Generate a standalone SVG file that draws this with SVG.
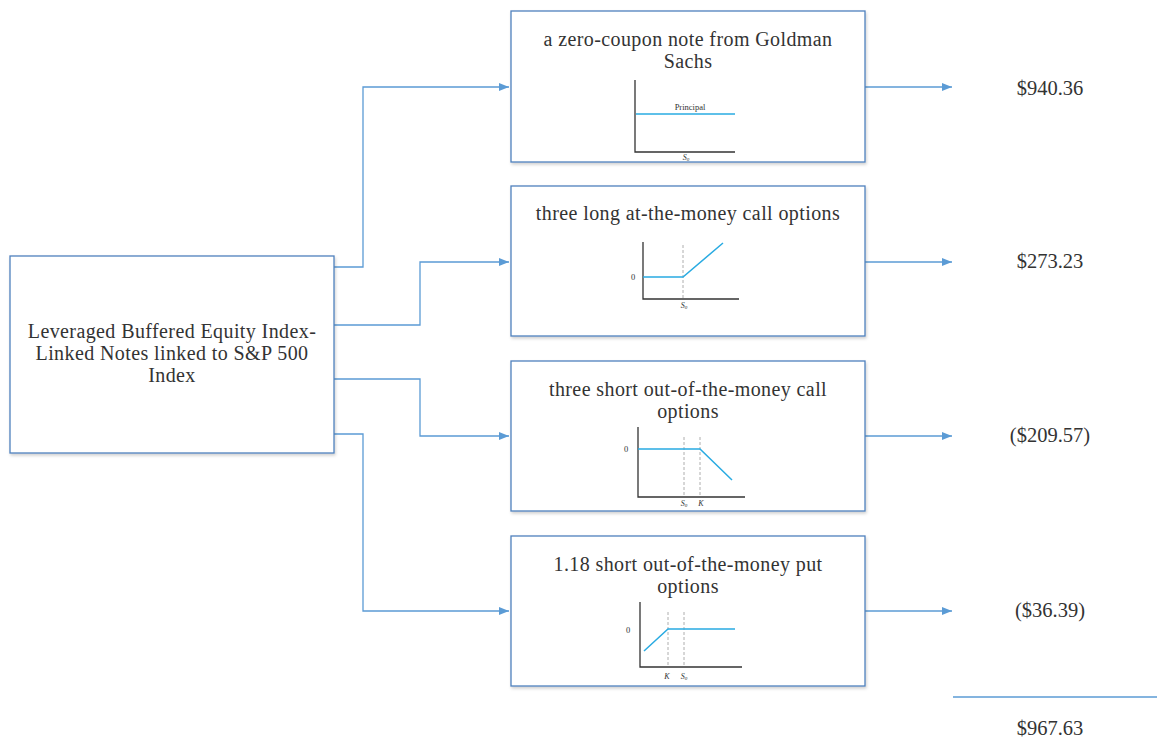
<svg xmlns="http://www.w3.org/2000/svg" width="1157" height="738" viewBox="0 0 1157 738">
<defs>
<marker id="ah" markerWidth="10" markerHeight="8" refX="10" refY="4" orient="auto" markerUnits="userSpaceOnUse">
<path d="M0,0 L10,4 L0,8 Z" fill="#5b9bd5"/>
</marker>
<filter id="sh" x="-5%" y="-5%" width="112%" height="115%">
<feDropShadow dx="1" dy="2" stdDeviation="1.5" flood-color="#000" flood-opacity="0.18"/>
</filter>
<style>
.box{fill:#fff;stroke:#4f81bd;stroke-width:1.3;filter:url(#sh)}
.t{font-family:"Liberation Serif",serif;font-size:20px;letter-spacing:0.4px;fill:#333;text-anchor:middle}
.v{font-family:"Liberation Serif",serif;font-size:20.5px;fill:#333;text-anchor:middle}
.c{fill:none;stroke:#5b9bd5;stroke-width:1.3}
.ax{fill:none;stroke:#333;stroke-width:1.3}
.ds{fill:none;stroke:#999;stroke-width:0.8;stroke-dasharray:3,2}
.bl{fill:none;stroke:#29abe2;stroke-width:1.5}
.s{font-family:"Liberation Serif",serif;font-size:8.5px;fill:#333;text-anchor:middle}
.si{font-family:"Liberation Serif",serif;font-size:8px;fill:#333;text-anchor:middle;font-style:italic}
</style>
</defs>
<g id="connectors">
<path class="c" d="M334,267 H363 V87 H509" marker-end="url(#ah)"/>
<path class="c" d="M334,325 H420 V262 H509" marker-end="url(#ah)"/>
<path class="c" d="M334,379 H420 V436 H509" marker-end="url(#ah)"/>
<path class="c" d="M334,434 H363 V611 H509" marker-end="url(#ah)"/>
<path class="c" d="M865,87 H952" marker-end="url(#ah)"/>
<path class="c" d="M865,262 H952" marker-end="url(#ah)"/>
<path class="c" d="M865,436 H952" marker-end="url(#ah)"/>
<path class="c" d="M865,611 H952" marker-end="url(#ah)"/>
<path class="c" d="M953,697 H1157"/>
</g>
<g id="source">
<rect class="box" x="10" y="256" width="324" height="197"/>
<text class="t" x="172" y="338">Leveraged Buffered Equity Index-</text>
<text class="t" x="172" y="360">Linked Notes linked to S&amp;P 500</text>
<text class="t" x="172" y="382">Index</text>
</g>
<g id="zero-coupon">
<rect class="box" x="511" y="11" width="354" height="151"/>
<text class="t" x="688" y="46">a zero-coupon note from Goldman</text>
<text class="t" x="688" y="68">Sachs</text>
<path class="ax" d="M635,80 V152 H735"/>
<path class="bl" d="M636,114 H735"/>
<text class="s" x="690" y="110">Principal</text>
<text class="si" x="686" y="160">S<tspan font-size="5" dy="1">0</tspan></text>
</g>
<g id="long-call">
<rect class="box" x="511" y="186" width="354" height="150"/>
<text class="t" x="688" y="220">three long at-the-money call options</text>
<path class="ds" d="M683,245 V299"/>
<path class="ax" d="M643,242 V299 H739"/>
<path class="bl" d="M643,277 H683 L723,243"/>
<text class="s" x="633" y="280">0</text>
<text class="si" x="684" y="308">S<tspan font-size="5" dy="1">0</tspan></text>
</g>
<g id="short-call">
<rect class="box" x="511" y="361" width="354" height="150"/>
<text class="t" x="688" y="396">three short out-of-the-money call</text>
<text class="t" x="688" y="418">options</text>
<path class="ds" d="M684,437 V497 M700,437 V497"/>
<path class="ax" d="M638,427 V497 H745"/>
<path class="bl" d="M638,449 H700 L732,480"/>
<text class="s" x="626" y="452">0</text>
<text class="si" x="684" y="506">S<tspan font-size="5" dy="1">0</tspan></text>
<text class="si" x="701" y="506">K</text>
</g>
<g id="short-put">
<rect class="box" x="511" y="536" width="354" height="150"/>
<text class="t" x="688" y="571">1.18 short out-of-the-money put</text>
<text class="t" x="688" y="593">options</text>
<path class="ds" d="M668,612 V667 M684,612 V667"/>
<path class="ax" d="M640,602 V667 H742"/>
<path class="bl" d="M644,651 L668,629 H735"/>
<text class="s" x="628" y="633">0</text>
<text class="si" x="667" y="679">K</text>
<text class="si" x="684" y="679">S<tspan font-size="5" dy="1">0</tspan></text>
</g>
<g id="values">
<text class="v" x="1050" y="95">$940.36</text>
<text class="v" x="1050" y="268">$273.23</text>
<text class="v" x="1050" y="442">($209.57)</text>
<text class="v" x="1050" y="617">($36.39)</text>
<text class="v" x="1050" y="735">$967.63</text>
</g>
</svg>
